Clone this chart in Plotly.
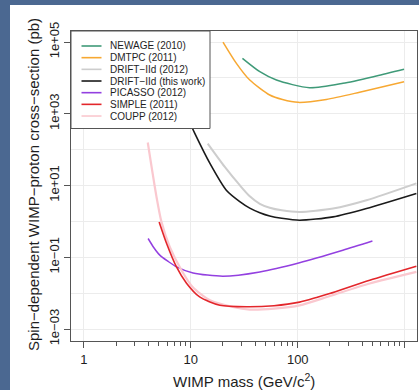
import plotly.graph_objects as go

# ---------------- data ----------------
newage_mass = [30.4, 44.2, 63.2, 129, 265, 544, 986]
newage_xs = [3.51e4, 1.49e4, 8.71e3, 5.31e3, 7.05e3, 1.13e4, 1.73e4]

dmtpc_mass = [20.0, 26.7, 35.6, 54.7, 72.0, 101, 185, 379, 986]
dmtpc_xs = [1.0e5, 2.55e4, 8.71e3, 3.33e3, 2.49e3, 2.08e3, 2.51e3, 3.98e3, 7.82e3]

drift12_mass = [14.4, 20.8, 28.7, 35.6, 44.2, 54.7, 70.8, 104, 214, 439, 1286]
drift12_xs = [148, 33.1, 10.2, 5.01, 3.09, 2.40, 2.04, 1.84, 2.29, 3.89, 11.5]

drift_mass = [8.98, 10.9, 15.1, 21.6, 28.7, 35.6, 44.2, 54.7, 70.8, 104, 214, 439, 1286]
drift_xs = [1000, 284, 41.3, 7.24, 3.55, 2.34, 1.74, 1.41, 1.22, 1.08, 1.34, 2.30, 6.03]

picasso_mass = [3.99, 4.5, 5.13, 6.1, 7.35, 10.5, 20.0, 44.2, 104, 264, 499]
picasso_xs = [0.334, 0.188, 0.115, 0.0778, 0.054, 0.0367, 0.0297, 0.0392, 0.0708, 0.158, 0.285]

simple_mass = [5.06, 5.93, 7.35, 9.12, 12.1, 18.7, 33.2, 60, 104, 150, 199, 471, 1286]
simple_xs = [0.97, 0.247, 0.054, 0.019, 7.85e-3, 4.61e-3, 4.17e-3, 4.47e-3, 5.62e-3,
             7.59e-3, 9.77e-3, 0.023, 0.0565]

coupp_mass = [3.96, 4.78, 5.32, 6.36, 8.19, 10.4, 15.1, 24.7, 35.6, 60, 104, 200, 471, 1286]
coupp_xs = [158, 4.84, 0.97, 0.195, 0.0437, 0.0149, 6.35e-3, 4.13e-3, 3.5e-3, 3.72e-3,
            4.57e-3, 8.32e-3, 0.0186, 0.0392]

series_names = ["NEWAGE (2010)", "DMTPC (2011)", "DRIFT−IId (2012)", "DRIFT−IId (this work)",
                "PICASSO (2012)", "SIMPLE (2011)", "COUPP (2012)"]
series_x = [newage_mass, dmtpc_mass, drift12_mass, drift_mass, picasso_mass, simple_mass, coupp_mass]
series_y = [newage_xs, dmtpc_xs, drift12_xs, drift_xs, picasso_xs, simple_xs, coupp_xs]
series_colors = ["#3f9a78", "#f7a832", "#cdcdcd", "#1a1a1a", "#9340e0", "#e3262b", "#fac8cf"]
series_widths = [1.5, 1.5, 2.0, 1.6, 1.5, 1.6, 2.2]

x_tickvals = [1, 10, 100, 1000]
x_ticktext = ["1", "10", "100", "1000"]
x_minor = [m * d for d in (1, 10, 100) for m in range(2, 10)]
y_tickvals = [1e-3, 1e-1, 1e1, 1e3, 1e5]
y_ticktext = ["1e−03", "1e−01", "1e+01", "1e+03", "1e+05"]
y_minor = [1e-2, 1, 1e2, 1e4]

FONT = "Liberation Sans, Arial, Helvetica, sans-serif"
TXT = "#1e1e1e"
AX = "#555555"
GRID = "#ececec"

# --- pixel helpers (layout geometry) ---
W, H = 419, 390
L, R, T, B = 71, 417, 31, 341


def px(x):
    return (x - L) / (R - L)


def py(y):
    return (B - y) / (B - T)


fig = go.Figure()
order = [2, 3, 0, 1, 4, 6, 5]
for i in order:
    fig.add_trace(go.Scatter(
        x=series_x[i], y=series_y[i], mode="lines", name=series_names[i],
        line=dict(color=series_colors[i], width=series_widths[i], shape="spline", smoothing=0.7),
        showlegend=False, hoverinfo="skip"))

shapes = []
annotations = []
# white panel over the blue frame
shapes.append(dict(type="rect", xref="paper", yref="paper", x0=px(10), x1=px(430),
                   y0=py(400), y1=py(5), fillcolor="white", line=dict(width=0), layer="below"))
# legend box
shapes.append(dict(type="rect", xref="paper", yref="paper", x0=px(L), x1=px(210),
                   y0=py(128.5), y1=py(T), fillcolor="white", line=dict(color=AX, width=1),
                   layer="above"))
for i, name in enumerate(series_names):
    yy = 46 + i * 11.67
    shapes.append(dict(type="line", xref="paper", yref="paper", x0=px(81.5), x1=px(101.5),
                       y0=py(yy), y1=py(yy), line=dict(color=series_colors[i], width=1.6),
                       layer="above"))
    annotations.append(dict(xref="paper", yref="paper", x=px(107.5), y=py(yy), text=name,
                            showarrow=False, xanchor="left", yanchor="middle",
                            font=dict(family=FONT, size=10, color=TXT)))

# axis titles
annotations.append(dict(xref="paper", yref="paper", x=px(243.5), y=py(381),
                        text="WIMP mass (GeV/c<sup>2</sup>)", showarrow=False,
                        xanchor="center", yanchor="middle",
                        font=dict(family=FONT, size=15, color=TXT)))
annotations.append(dict(xref="paper", yref="paper", x=px(33), y=py(185),
                        text="Spin−dependent WIMP−proton cross−section (pb)", showarrow=False,
                        textangle=-90, xanchor="center", yanchor="middle",
                        font=dict(family=FONT, size=15, color=TXT)))

fig.update_layout(
    width=W, height=H,
    margin=dict(l=L, r=W - R, t=T, b=H - B, pad=0),
    paper_bgcolor="#4b6891",
    plot_bgcolor="white",
    showlegend=False,
    shapes=shapes,
    annotations=annotations,
    font=dict(family=FONT, color=TXT),
)

fig.update_xaxes(
    type="log", range=[-0.12, 3.115],
    tickmode="array", tickvals=x_tickvals, ticktext=x_ticktext,
    ticks="outside", ticklen=6, tickwidth=1, tickcolor=AX,
    showline=True, linecolor=AX, linewidth=1, mirror=True,
    showgrid=True, gridcolor=GRID, gridwidth=1, zeroline=False,
    tickfont=dict(family=FONT, size=13, color=TXT),
    minor=dict(tickmode="array", tickvals=x_minor, ticks="outside", ticklen=3.5,
               tickcolor=AX, showgrid=False),
)
fig.update_yaxes(
    type="log", range=[-3.333, 5.307],
    tickmode="array", tickvals=y_tickvals, ticktext=y_ticktext, tickangle=-90,
    ticks="outside", ticklen=6, tickwidth=1, tickcolor=AX,
    showline=True, linecolor=AX, linewidth=1, mirror=True,
    showgrid=True, gridcolor=GRID, gridwidth=1, zeroline=False,
    tickfont=dict(family=FONT, size=13, color=TXT),
    minor=dict(tickmode="array", tickvals=y_minor, ticks="", showgrid=True, gridcolor=GRID),
)

fig.write_html("out.html")
